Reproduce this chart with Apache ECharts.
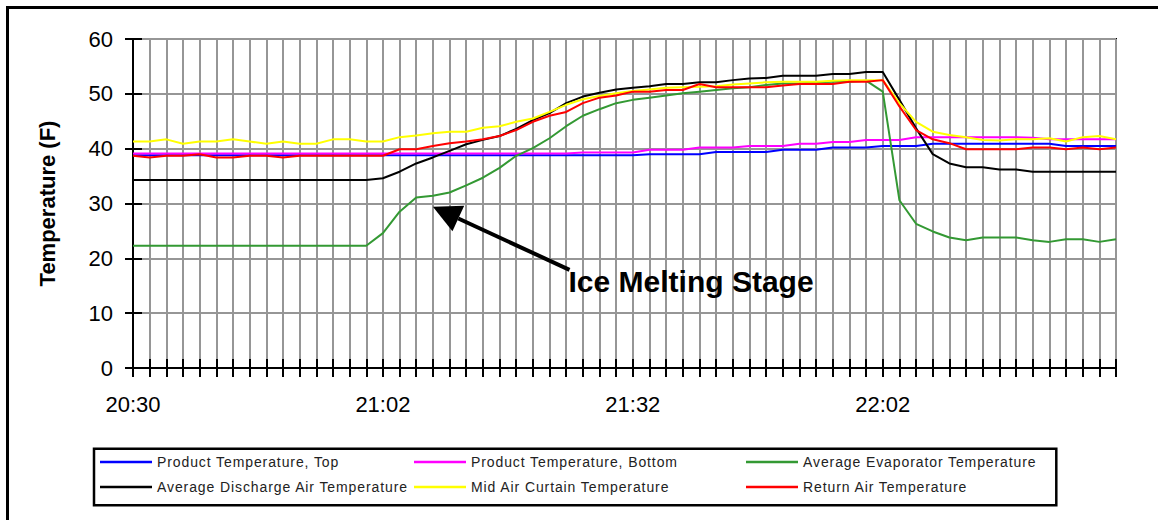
<!DOCTYPE html>
<html>
<head>
<meta charset="utf-8">
<title>Display case temperatures</title>
<script src="https://cdn.jsdelivr.net/npm/echarts@6/dist/echarts.min.js"></script>
<style>
  html, body { margin: 0; padding: 0; background: #fff; }
  #chart { width: 1158px; height: 520px; }
  /* legend entries are set slightly spaced out */
  #chart text[style*="14px"] { letter-spacing: 0.9px; }
</style>
</head>
<body>
<div id="chart"></div>
<script>
// Sample times (about every two minutes)
const times = [
  '20:30','20:32','20:34','20:36','20:38','20:40','20:42','20:44','20:46','20:48',
  '20:50','20:52','20:54','20:56','20:58','21:02','21:04','21:06','21:08','21:10',
  '21:12','21:14','21:16','21:18','21:20','21:22','21:24','21:26','21:28','21:30',
  '21:32','21:34','21:36','21:38','21:40','21:42','21:44','21:46','21:48','21:50',
  '21:52','21:54','21:56','21:58','22:00','22:02','22:04','22:06','22:08','22:10',
  '22:12','22:14','22:16','22:18','22:20','22:22','22:24','22:26','22:28','22:30'
];
// Times that carry a tick label
const labelTimes = ['20:30', '21:02', '21:32', '22:02'];

// Temperatures in degrees F
const productTop = [
  38.8,38.8,38.8,38.8,38.8,38.8,38.8,38.8,38.8,38.8,
  38.8,38.8,38.8,38.8,38.8,38.8,38.8,38.8,38.8,38.8,
  38.8,38.8,38.8,38.8,38.8,38.8,38.8,38.8,38.8,38.8,
  38.8,39.0,39.0,39.0,39.0,39.4,39.4,39.4,39.4,39.8,
  39.8,39.8,40.2,40.2,40.2,40.5,40.5,40.5,40.9,40.9,
  40.9,40.9,40.9,40.9,40.9,40.9,40.5,40.5,40.5,40.5
];
const productBottom = [
  39.1,39.1,39.1,39.1,39.1,39.1,39.1,39.1,39.1,39.1,
  39.1,39.1,39.1,39.1,39.1,39.1,39.1,39.1,39.1,39.1,
  39.1,39.1,39.1,39.1,39.1,39.1,39.1,39.3,39.3,39.3,
  39.3,39.8,39.8,39.8,40.2,40.2,40.2,40.5,40.5,40.5,
  40.9,40.9,41.2,41.2,41.6,41.6,41.6,42.1,42.1,42.1,
  42.1,42.1,42.1,42.1,42.0,41.7,41.7,41.7,41.7,41.7
];
const evaporator = [
  22.3,22.3,22.3,22.3,22.3,22.3,22.3,22.3,22.3,22.3,
  22.3,22.3,22.3,22.3,22.3,24.6,28.5,31.1,31.4,32.0,
  33.3,34.7,36.5,38.7,40.1,41.9,44.1,46.0,47.2,48.3,
  48.9,49.3,49.7,50.1,50.4,50.7,51.0,51.2,51.6,51.9,
  51.9,52.1,52.2,52.2,52.4,50.4,30.6,26.3,24.9,23.8,
  23.3,23.8,23.8,23.8,23.3,23.0,23.5,23.5,23.0,23.5
];
const dischargeAir = [
  34.3,34.3,34.3,34.3,34.3,34.3,34.3,34.3,34.3,34.3,
  34.3,34.3,34.3,34.3,34.3,34.6,35.8,37.3,38.4,39.6,
  40.8,41.6,42.3,43.6,45.2,46.5,48.3,49.5,50.2,50.8,
  51.1,51.4,51.8,51.8,52.1,52.1,52.5,52.8,52.9,53.3,
  53.3,53.3,53.6,53.6,54.0,54.0,48.9,43.7,39.0,37.3,
  36.6,36.6,36.2,36.2,35.8,35.8,35.8,35.8,35.8,35.8
];
const midAirCurtain = [
  41.3,41.3,41.7,40.9,41.3,41.3,41.7,41.3,40.9,41.3,
  40.9,40.9,41.7,41.7,41.3,41.3,42.1,42.4,42.8,43.1,
  43.1,43.8,44.1,44.9,45.5,46.7,48.0,49.0,49.6,50.1,
  50.5,50.8,51.1,51.2,51.3,51.4,51.7,51.9,52.1,52.2,
  52.2,52.2,52.4,52.5,52.5,52.5,48.3,44.9,43.1,42.5,
  42.1,41.6,41.5,41.7,41.7,41.9,41.3,42.1,42.3,41.7
];
const returnAir = [
  38.7,38.4,38.7,38.7,39.0,38.4,38.4,38.7,38.7,38.4,
  38.7,38.7,38.7,38.7,38.7,38.7,39.9,39.9,40.5,41.0,
  41.3,41.7,42.3,43.4,44.9,46.0,46.7,48.3,49.3,49.7,
  50.4,50.4,50.7,50.7,51.8,51.2,51.2,51.2,51.2,51.5,
  51.8,51.8,51.8,52.2,52.2,52.5,47.7,43.4,41.7,41.0,
  39.9,39.9,39.9,39.9,40.2,40.2,39.9,40.2,39.9,40.2
];

// Annotation anchors in data space: [sample index, degrees F]
const arrowTip = [18, 29.4];
const arrowTail = [26.2, 17.9];
const annotationText = 'Ice Melting Stage';

const FONT = "'Liberation Sans', Arial, Helvetica, sans-serif";

const seriesDefs = [
  { name: 'Product Temperature, Top', data: productTop, color: '#0000ff' },
  { name: 'Product Temperature, Bottom', data: productBottom, color: '#ff00ff' },
  { name: 'Average Evaporator Temperature', data: evaporator, color: '#339933' },
  { name: 'Average Discharge Air Temperature', data: dischargeAir, color: '#000000' },
  { name: 'Mid Air Curtain Temperature', data: midAirCurtain, color: '#ffff00' },
  { name: 'Return Air Temperature', data: returnAir, color: '#ff0000' }
];

const chart = echarts.init(document.getElementById('chart'), null, { renderer: 'svg' });

const legendText = { fontFamily: FONT, fontSize: 14, color: '#222' };
function legendColumn(left, names) {
  return {
    orient: 'vertical', left: left, top: 455, padding: 0,
    itemGap: 11, itemWidth: 52, itemHeight: 2.5, icon: 'rect',
    selectedMode: false, data: names, textStyle: legendText
  };
}

const tickStyle = { color: '#000', width: 2 };

const option = {
  backgroundColor: '#fff',
  animation: false,
  grid: {
    left: 133, right: 42, top: 39, bottom: 152,
    show: true, borderColor: '#000', borderWidth: 2, backgroundColor: 'transparent'
  },
  legend: [
    legendColumn(100, [seriesDefs[0].name, seriesDefs[3].name]),
    legendColumn(414, [seriesDefs[1].name, seriesDefs[4].name]),
    legendColumn(746, [seriesDefs[2].name, seriesDefs[5].name])
  ],
  xAxis: [
    {
      type: 'category', data: times, boundaryGap: false, position: 'bottom',
      axisLine: { lineStyle: tickStyle },
      axisTick: { interval: 0, length: 9, lineStyle: tickStyle },
      axisLabel: {
        interval: (i, v) => labelTimes.includes(v),
        margin: 25, fontFamily: FONT, fontSize: 22, color: '#000'
      },
      splitLine: { show: true, interval: 0, lineStyle: { color: '#969696', width: 2 } }
    },
    {
      // inner half of the crossing ticks
      type: 'category', data: times, boundaryGap: false, position: 'bottom',
      axisLine: { show: false },
      axisTick: { inside: true, interval: 0, length: 9, lineStyle: tickStyle },
      axisLabel: { show: false },
      splitLine: { show: false }
    }
  ],
  yAxis: [
    {
      type: 'value', min: 0, max: 60, interval: 10,
      name: 'Temperature (F)', nameLocation: 'middle', nameRotate: 90, nameGap: 75,
      nameTextStyle: { fontFamily: FONT, fontSize: 22, fontWeight: 'bold', color: '#000' },
      axisLine: { show: true, lineStyle: tickStyle },
      axisTick: { show: true, length: 8, lineStyle: tickStyle },
      axisLabel: { margin: 20, fontFamily: FONT, fontSize: 22, color: '#000' },
      splitLine: { show: true, lineStyle: { color: '#969696', width: 2 } }
    },
    {
      // inner half of the crossing ticks
      type: 'value', min: 0, max: 60, interval: 10, position: 'left',
      axisLine: { show: false },
      axisTick: { show: true, inside: true, length: 9, lineStyle: tickStyle },
      axisLabel: { show: false },
      splitLine: { show: false }
    }
  ],
  series: seriesDefs.map(s => ({
    name: s.name, type: 'line', data: s.data,
    xAxisIndex: 0, yAxisIndex: 0,
    symbol: 'none', showSymbol: false,
    color: s.color,
    itemStyle: { color: s.color },
    lineStyle: { color: s.color, width: 2 },
    emphasis: { disabled: true }
  }))
};

chart.setOption(option);

// Pixel position of a data-space point; fractional sample indices are interpolated
function toPixel(pt) {
  const i0 = Math.floor(pt[0]);
  const f = pt[0] - i0;
  const a = chart.convertToPixel({ gridIndex: 0 }, [i0, pt[1]]);
  const b = chart.convertToPixel({ gridIndex: 0 }, [i0 + 1, pt[1]]);
  return [a[0] + (b[0] - a[0]) * f, a[1]];
}

const tip = toPixel(arrowTip);
const tail = toPixel(arrowTail);
const dx = tip[0] - tail[0], dy = tip[1] - tail[1];
const len = Math.sqrt(dx * dx + dy * dy);
const ux = dx / len, uy = dy / len;
const headLen = 28, headHalf = 14;
const bx = tip[0] - ux * headLen, by = tip[1] - uy * headLen;

chart.setOption({
  graphic: [
    {
      // outer chart frame
      type: 'rect', silent: true,
      shape: { x: 7.5, y: 7.5, width: 1300, height: 700 },
      style: { fill: 'none', stroke: '#000', lineWidth: 3 }
    },
    {
      // legend box
      type: 'rect', silent: true,
      shape: { x: 94, y: 448.7, width: 962.3, height: 56.6 },
      style: { fill: 'none', stroke: '#000', lineWidth: 2.5 }
    },
    {
      type: 'line', silent: true, z: 100,
      shape: { x1: tail[0], y1: tail[1], x2: bx, y2: by },
      style: { stroke: '#000', lineWidth: 4 }
    },
    {
      type: 'polygon', silent: true, z: 100,
      shape: { points: [
        [tip[0], tip[1]],
        [bx - uy * headHalf, by + ux * headHalf],
        [bx + uy * headHalf, by - ux * headHalf]
      ] },
      style: { fill: '#000' }
    },
    {
      type: 'text', silent: true, z: 100,
      style: {
        x: tail[0] - 1, y: tail[1] + 12,
        text: annotationText,
        font: 'bold 30px ' + FONT,
        fill: '#000',
        textAlign: 'left', textVerticalAlign: 'middle'
      }
    }
  ]
});
</script>
</body>
</html>
